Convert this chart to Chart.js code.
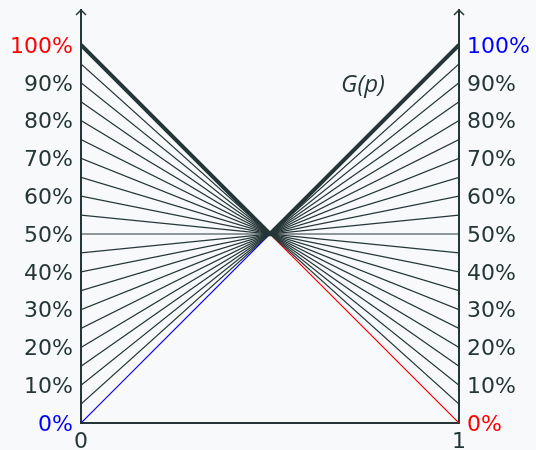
<!DOCTYPE html>
<html>
<head>
<meta charset="utf-8">
<script src="https://cdn.jsdelivr.net/npm/chart.js@4.4.1/dist/chart.umd.min.js"></script>
<style>
  html, body { margin: 0; padding: 0; background: #f8f9fa; }
  #wrap { width: 536px; height: 450px; }
</style>
</head>
<body>
<div id="wrap"><canvas id="c" width="536" height="450"></canvas></div>
<script>
// left-hand values of the straight lines, all passing through (0.5, 50%)
var startValues = [0, 0.05, 0.10, 0.15, 0.20, 0.25, 0.30, 0.35, 0.40, 0.45, 0.50,
                   0.55, 0.60, 0.65, 0.70, 0.75, 0.80, 0.85, 0.90, 0.95, 1.00];
var endValues   = [1.00, 0.95, 0.90, 0.85, 0.80, 0.75, 0.70, 0.65, 0.60, 0.55, 0.50,
                   0.45, 0.40, 0.35, 0.30, 0.25, 0.20, 0.15, 0.10, 0.05, 0];
// the thick V, G(p)
var gX = [0, 0.5, 1];
var gY = [1.00, 0.50, 1.00];
var yTicks = [0, 0.1, 0.2, 0.3, 0.4, 0.5, 0.6, 0.7, 0.8, 0.9, 1.0];
var xTicks = [0, 1];

var dark = '#253638';
var fontFam = '"DejaVu Sans", sans-serif';

var datasets = [];
// thick V first, lower order = drawn on top
datasets.push({
    data: gX.map(function(v, k){ return {x: v, y: gY[k]}; }),
    borderColor: dark,
    borderWidth: 4,
    pointRadius: 0,
    showLine: true,
    order: 0
});
for (var i = 0; i < startValues.length; i++) {
    var col = dark;
    if (startValues[i] === 0) col = '#0000ff';
    if (startValues[i] === 1) col = '#ff0000';
    datasets.push({
        data: [{x: 0, y: startValues[i]}, {x: 1, y: endValues[i]}],
        borderColor: col,
        borderWidth: 1.2,
        pointRadius: 0,
        showLine: true,
        order: (col === dark) ? 1 : 2
    });
}

function pct(v){ return Math.round(v * 100) + '%'; }

var arrows = {
    id: 'arrows',
    afterDraw: function(chart){
        var ctx = chart.ctx;
        var a = chart.chartArea;
        ctx.save();
        ctx.strokeStyle = dark;
        ctx.lineWidth = 1.5;
        [a.left, a.right].forEach(function(x){
            ctx.beginPath();
            ctx.moveTo(x - 5, a.top + 5);
            ctx.lineTo(x, a.top);
            ctx.lineTo(x + 5, a.top + 5);
            ctx.stroke();
        });
        ctx.fillStyle = dark;
        ctx.font = 'italic 24px "Open Sans", sans-serif';
        ctx.textAlign = 'center';
        ctx.textBaseline = 'middle';
        ctx.fillText('G(p)', 363, 85);
        ctx.restore();
    }
};

new Chart(document.getElementById('c'), {
    type: 'scatter',
    data: { datasets: datasets },
    plugins: [arrows],
    options: {
        responsive: false,
        animation: false,
        devicePixelRatio: 1,
        layout: { padding: { top: 10, left: 0, right: 0, bottom: 0 } },
        plugins: { legend: { display: false }, tooltip: { enabled: false } },
        scales: {
            x: {
                type: 'linear', min: 0, max: 1,
                afterBuildTicks: function(s){ s.ticks = xTicks.map(function(v){ return {value: v}; }); },
                afterFit: function(s){ s.height = 27; s.paddingLeft = 0; s.paddingRight = 0; },
                grid: { display: false, drawTicks: false },
                border: { display: true, color: dark, width: 2 },
                ticks: { color: dark, padding: 6, font: { family: fontFam, size: 22 },
                         maxRotation: 0, callback: function(v){ return String(v); } }
            },
            y: {
                type: 'linear', position: 'left', min: 0, max: 1.0926,
                afterBuildTicks: function(s){ s.ticks = yTicks.map(function(v){ return {value: v}; }); },
                afterFit: function(s){ s.width = 81; s.paddingTop = 0; s.paddingBottom = 0; },
                grid: { display: false, drawTicks: false },
                border: { display: true, color: dark, width: 2 },
                ticks: {
                    padding: 8, labelOffset: 2, font: { family: fontFam, size: 22 },
                    callback: pct,
                    color: function(c){
                        if (c.tick.value === 1) return '#ff0000';
                        if (c.tick.value === 0) return '#0000ff';
                        return dark;
                    }
                }
            },
            y2: {
                type: 'linear', position: 'right', min: 0, max: 1.0926,
                afterBuildTicks: function(s){ s.ticks = yTicks.map(function(v){ return {value: v}; }); },
                afterFit: function(s){ s.width = 77; s.paddingTop = 0; s.paddingBottom = 0; },
                grid: { display: false, drawTicks: false },
                border: { display: true, color: dark, width: 2 },
                ticks: {
                    padding: 8, labelOffset: 2, font: { family: fontFam, size: 22 },
                    callback: pct,
                    color: function(c){
                        if (c.tick.value === 1) return '#0000ff';
                        if (c.tick.value === 0) return '#ff0000';
                        return dark;
                    }
                }
            }
        }
    }
});
</script>
</body>
</html>
